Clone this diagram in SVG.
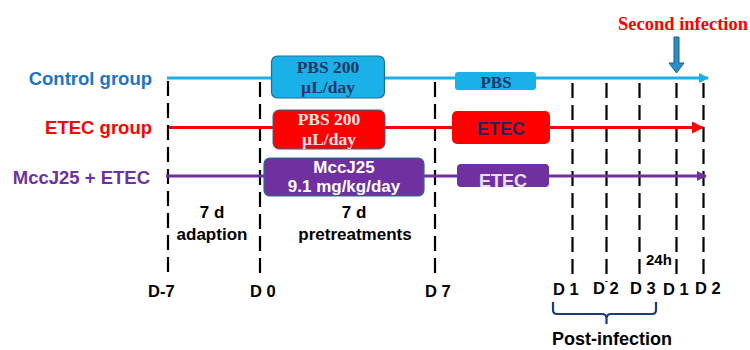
<svg xmlns="http://www.w3.org/2000/svg" width="750" height="350" viewBox="0 0 750 350">
<defs>
<style>
.dash{stroke:#000;stroke-width:2.2;stroke-dasharray:15,7;fill:none}
.sans{font-family:"Liberation Sans",Arial,sans-serif;font-weight:bold}
.serif{font-family:"Liberation Serif","Times New Roman",serif;font-weight:bold}
.lbl{font-size:18.5px;text-anchor:end}
.day{font-size:16.5px;fill:#000}
.mid{text-anchor:middle}
</style>
<marker id="ab" markerWidth="10" markerHeight="10" refX="9" refY="5" orient="auto" markerUnits="userSpaceOnUse"><path d="M0,0 L10,5 L0,10 Z" fill="#1ab0e8"/></marker>
<marker id="ar" markerWidth="12" markerHeight="12" refX="11" refY="6" orient="auto" markerUnits="userSpaceOnUse"><path d="M0,0 L12,6 L0,12 Z" fill="#ff0000"/></marker>
<marker id="ap" markerWidth="10" markerHeight="10" refX="9" refY="5" orient="auto" markerUnits="userSpaceOnUse"><path d="M0,0 L10,5 L0,10 Z" fill="#7030a0"/></marker>
</defs>
<rect width="750" height="350" fill="#fff"/>

<g id="connectors">
<g id="dashes">
<line class="dash" x1="168" y1="81" x2="168" y2="278"/>
<line class="dash" x1="260" y1="82" x2="260" y2="278"/>
<line class="dash" x1="435" y1="82" x2="435" y2="278"/>
<line class="dash" x1="572.5" y1="83" x2="572.5" y2="278"/>
<line class="dash" x1="606.5" y1="83" x2="606.5" y2="282"/>
<line class="dash" x1="639.5" y1="83" x2="639.5" y2="278"/>
<line class="dash" x1="676.5" y1="83" x2="676.5" y2="280"/>
<line class="dash" x1="703.5" y1="83" x2="703.5" y2="278"/>
</g>
<line x1="167" y1="78" x2="708" y2="78" stroke="#1ab0e8" stroke-width="3" marker-end="url(#ab)"/>
<line x1="169" y1="127.5" x2="703" y2="127.5" stroke="#ff0000" stroke-width="3" marker-end="url(#ar)"/>
<line x1="166" y1="176" x2="706" y2="176" stroke="#7030a0" stroke-width="3" marker-end="url(#ap)"/>
</g>

<g id="label-control"><text class="sans lbl" x="152" y="85" fill="#1a75c9">Control group</text></g>
<g id="label-etec"><text class="sans lbl" x="152" y="134" fill="#ff0000">ETEC group</text></g>
<g id="label-mcc"><text class="sans lbl" x="150" y="184" fill="#7030a0">MccJ25 + ETEC</text></g>

<g id="box-pbs200-blue">
<rect x="271.5" y="56" width="113" height="42" rx="6" fill="#1ab0e8" stroke="#1f6e8c" stroke-width="1.2"/>
<text class="serif mid" x="328" y="73" font-size="17.5" fill="#1f3864">PBS 200</text>
<text class="serif mid" x="328" y="93" font-size="17.5" fill="#1f3864">µL/day</text>
</g>
<g id="box-pbs200-red">
<rect x="273" y="110" width="112" height="39" rx="6" fill="#ff0000" stroke="#1f6e8c" stroke-width="1"/>
<text class="serif mid" x="329" y="125" font-size="17.5" fill="#fbe5e5">PBS 200</text>
<text class="serif mid" x="329" y="145" font-size="17.5" fill="#fbe5e5">µL/day</text>
</g>
<g id="box-mcc">
<rect x="264" y="158" width="160" height="38" rx="6" fill="#7030a0" stroke="#1f6e8c" stroke-width="1.2"/>
<text class="sans mid" x="344" y="173" font-size="17" fill="#fff">MccJ25</text>
<text class="sans mid" x="344" y="191.5" font-size="17" fill="#fff">9.1 mg/kg/day</text>
</g>
<g id="box-pbs">
<rect x="455" y="72" width="81" height="18" rx="3" fill="#1ab0e8"/>
<text class="serif mid" x="496" y="88" font-size="17" fill="#1f3864">PBS</text>
</g>
<g id="box-etec-red">
<rect x="452" y="111" width="98" height="33" rx="5" fill="#ff0000"/>
<text class="sans mid" x="501" y="135" font-size="18" fill="#1f2a5c">ETEC</text>
</g>
<g id="box-etec-purple">
<rect x="457" y="164" width="92" height="23" rx="4" fill="#7030a0"/>
<text class="sans mid" x="503" y="187" font-size="18" fill="#e6e0ea">ETEC</text>
</g>

<g id="second-infection">
<text class="serif" x="618" y="30" font-size="18.5" fill="#ff0000">Second infection</text>
<path d="M674,37 H679 V63 H684 L676.5,73 L669,63 H674 Z" fill="#2a8fc6" stroke="#1f5f8a" stroke-width="1"/>
</g>

<g id="period-labels">
<text class="sans mid" x="212" y="218" font-size="17" fill="#000">7 d</text>
<text class="sans mid" x="212" y="240" font-size="17" fill="#000">adaption</text>
<text class="sans mid" x="354" y="218" font-size="17" fill="#000">7 d</text>
<text class="sans mid" x="355" y="240" font-size="17" fill="#000">pretreatments</text>
<text class="sans" x="646" y="265" font-size="15" fill="#000">24h</text>
</g>

<g id="day-labels">
<text class="sans day" x="148" y="297">D-7</text>
<text class="sans day" x="250" y="297">D 0</text>
<text class="sans day" x="425" y="297">D 7</text>
<text class="sans day" x="553" y="295">D 1</text>
<text class="sans day" x="593" y="294">D 2</text>
<text class="sans day" x="630" y="294">D 3</text>
<text class="sans day" x="663" y="295">D 1</text>
<text class="sans day" x="695" y="294">D 2</text>
</g>

<g id="post-infection">
<path d="M553,302 V310 Q553,314 557,314 H602 Q606,314 606.5,318 V324 M606.5,318 Q607,314 611,314 H652 Q656,314 656,310 V302" fill="none" stroke="#1f3a7a" stroke-width="2.2"/>
<text class="sans" x="552" y="345" font-size="18" fill="#000">Post-infection</text>
</g>
</svg>
